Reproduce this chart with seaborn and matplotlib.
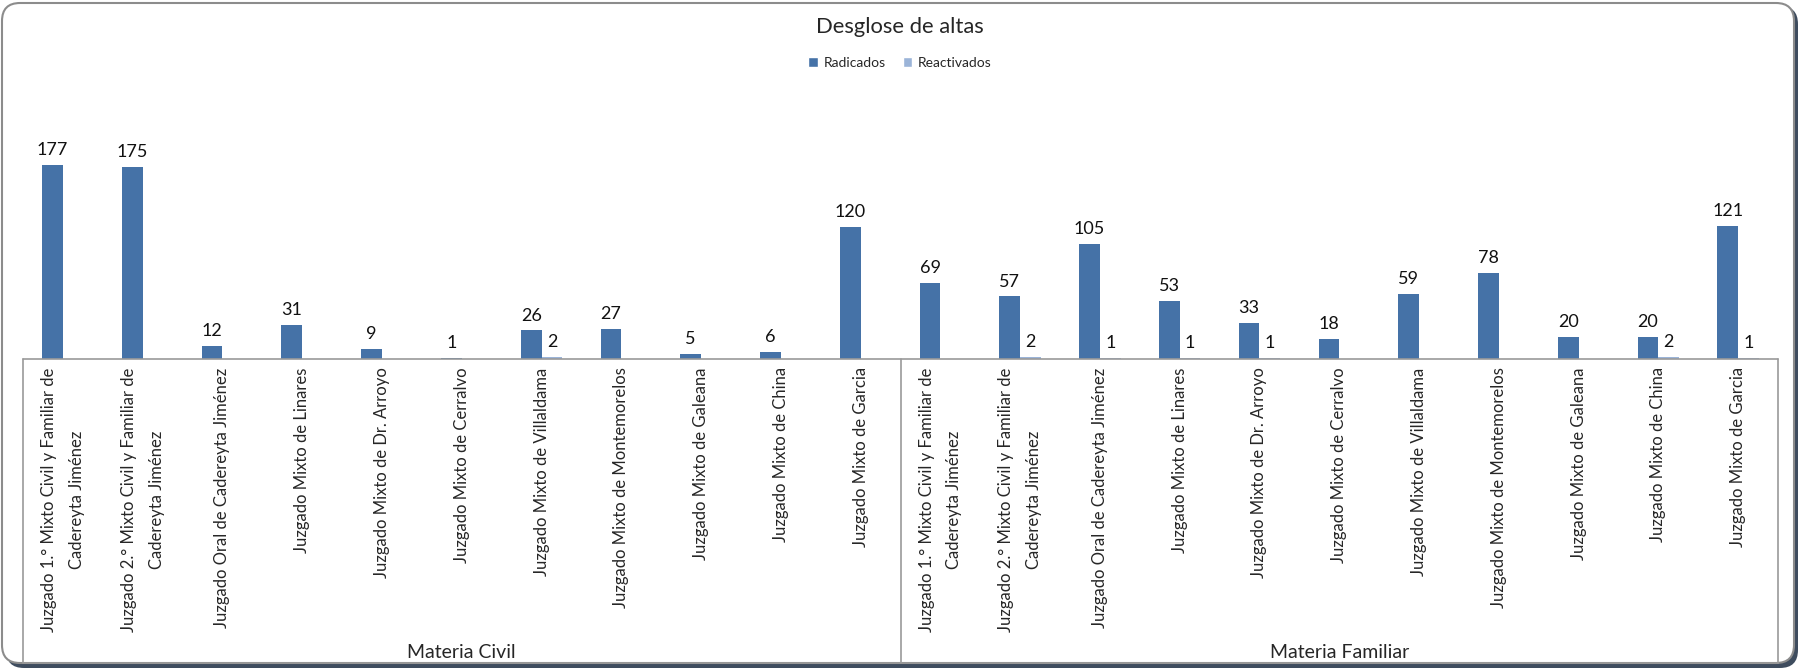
import pandas as pd
import matplotlib.pyplot as plt
import seaborn as sns
from matplotlib.patches import Patch, FancyBboxPatch
from matplotlib.lines import Line2D
from matplotlib.transforms import IdentityTransform

# datos
grupos = ['Materia Civil', 'Materia Familiar']
juzgados = [
    'Juzgado 1.° Mixto Civil y Familiar de\nCadereyta Jiménez',
    'Juzgado 2.° Mixto Civil y Familiar de\nCadereyta Jiménez',
    'Juzgado Oral de Cadereyta Jiménez',
    'Juzgado Mixto de Linares',
    'Juzgado Mixto de Dr. Arroyo',
    'Juzgado Mixto de Cerralvo',
    'Juzgado Mixto de Villaldama',
    'Juzgado Mixto de Montemorelos',
    'Juzgado Mixto de Galeana',
    'Juzgado Mixto de China',
    'Juzgado Mixto de Garcia',
]
series = ['Radicados', 'Reactivados']
civil_radicados = [177, 175, 12, 31, 9, 1, 26, 27, 5, 6, 120]
civil_reactivados = [0, 0, 0, 0, 0, 0, 2, 0, 0, 0, 0]
familiar_radicados = [69, 57, 105, 53, 33, 18, 59, 78, 20, 20, 121]
familiar_reactivados = [0, 2, 1, 1, 1, 0, 0, 0, 0, 2, 1]
colores = ['#4572A7', '#9BB4D8']


def main():
    filas = []
    claves = []
    etiquetas = []
    valores = {
        'Materia Civil': (civil_radicados, civil_reactivados),
        'Materia Familiar': (familiar_radicados, familiar_reactivados),
    }
    for g in grupos:
        rad, rea = valores[g]
        for i, j in enumerate(juzgados):
            clave = f'{g}|{i}'
            claves.append(clave)
            etiquetas.append(j)
            filas.append({'clave': clave, 'serie': 'Radicados', 'valor': rad[i]})
            filas.append({'clave': clave, 'serie': 'Reactivados', 'valor': rea[i]})
    df = pd.DataFrame(filas)

    sns.set_style('white')
    plt.rcParams['font.family'] = ['Lato', 'DejaVu Sans']

    W, H = 1800, 668
    fig = plt.figure(figsize=(18, 6.68), dpi=100)
    x0, x1, ybase, ytop = 23, 1778, 359, 110
    ax = fig.add_axes([x0 / W, (H - ybase) / H, (x1 - x0) / W, (ybase - ytop) / H])

    sns.barplot(data=df, x='clave', y='valor', hue='serie', order=claves,
                hue_order=series, palette=colores, saturation=1, width=0.52,
                gap=0, linewidth=0, ax=ax, legend=False)

    for cont, serie in zip(ax.containers, series):
        vals = list(df[df['serie'] == serie]['valor'])
        ax.bar_label(cont, labels=[str(v) if v > 0 else '' for v in vals],
                     padding=5, fontsize=13, color='#111111')

    ax.set_xlim(-0.5, len(claves) - 0.5)
    ax.set_ylim(0, (ybase - ytop) / 1.097)
    ax.set_yticks([])
    ax.set_xticks([])
    # etiquetas de categoria giradas
    for i, texto in enumerate(etiquetas):
        ax.annotate(texto, xy=(i, 0), xycoords=('data', 'axes fraction'),
                    xytext=(0, -6), textcoords='offset points', rotation=90,
                    ha='center', va='top', multialignment='center',
                    fontsize=12, linespacing=1.9, annotation_clip=False)
    ax.set_xlabel('')
    ax.set_ylabel('')
    for s in ax.spines.values():
        s.set_visible(False)

    # caja del eje de categorias
    gris = '#9A9A9A'
    ybot = 663
    xdiv = x0 + (x1 - x0) * 11 / 22
    def fig_line(xs, ys):
        fig.add_artist(Line2D([x / W for x in xs], [1 - y / H for y in ys],
                              color=gris, lw=1.2))
    fig_line([x0, x1], [ybase, ybase])
    fig_line([x0, x0], [ybase, ybot])
    fig_line([xdiv, xdiv], [ybase, ybot])
    fig_line([x1, x1], [ybase, ybot])
    fig_line([x0, x1], [ybot, ybot])

    fig.text((x0 + xdiv) / 2 / W, 1 - 652 / H, grupos[0], ha='center',
             va='center', fontsize=14)
    fig.text((xdiv + x1) / 2 / W, 1 - 652 / H, grupos[1], ha='center',
             va='center', fontsize=14)

    # titulo y leyenda
    fig.text(0.5, 1 - 27 / H, 'Desglose de altas', ha='center', va='center',
             fontsize=15.8)
    handles = [Patch(facecolor=c, label=s) for c, s in zip(colores, series)]
    fig.legend(handles=handles, loc='center', bbox_to_anchor=(0.5, 1 - 63 / H),
               ncol=2, frameon=False, fontsize=10, handlelength=0.7,
               handleheight=0.7, columnspacing=1.2, handletextpad=0.4)

    # marco redondeado con sombra
    sombra = FancyBboxPatch((6, 0), W - 8, H - 6,
                            boxstyle='round,pad=0,rounding_size=18',
                            transform=IdentityTransform(), facecolor='#3E4C5E',
                            edgecolor='none', zorder=-2)
    marco = FancyBboxPatch((2, 5), W - 8, H - 8,
                           boxstyle='round,pad=0,rounding_size=18',
                           transform=IdentityTransform(), facecolor='white',
                           edgecolor='#8C8C8C', lw=1.5, zorder=-1)
    fig.patches.extend([sombra, marco])

    fig.savefig('out.png', dpi=100, facecolor='white')


if __name__ == '__main__':
    main()
